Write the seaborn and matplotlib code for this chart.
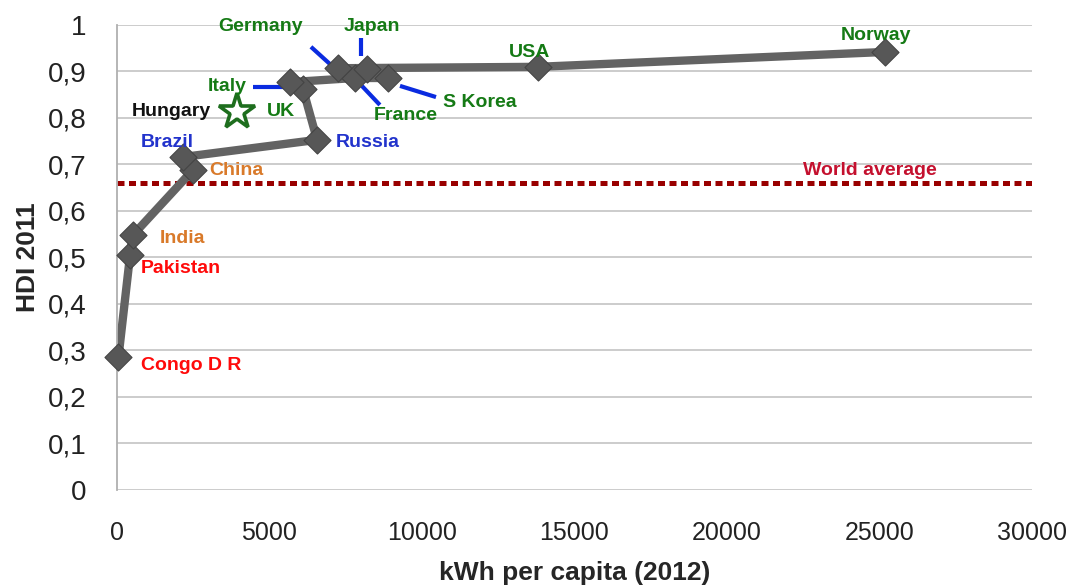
import matplotlib
matplotlib.use("Agg")
import matplotlib.pyplot as plt
import seaborn as sns
import pandas as pd

# data
countries = ["Congo D R", "Pakistan", "India", "China", "Brazil", "Russia", "UK", "Italy",
             "France", "S Korea", "Japan", "Germany", "USA", "Norway"]
kwh = [50, 430, 520, 2490, 2160, 6560, 6100, 5670, 7800, 8890, 8200, 7250, 13800, 25180]
hdi = [0.286, 0.505, 0.548, 0.688, 0.716, 0.753, 0.862, 0.877, 0.886, 0.886, 0.905, 0.907, 0.910, 0.942]

hungary_kwh = 3930
hungary_hdi = 0.813
world_avg = 0.660

# label placement (data coords) and colours
label_names = ["Germany", "Japan", "Italy", "Hungary", "UK", "Brazil", "Russia", "China", "France",
               "S Korea", "USA", "Norway", "India", "Pakistan", "Congo D R", "World average"]
label_x = [4720, 8360, 3610, 1800, 5380, 1640, 8230, 3900, 9480, 11900, 13540, 24890, 2160, 2100, 2430, 24690]
label_y = [0.996, 0.996, 0.867, 0.813, 0.813, 0.748, 0.748, 0.686, 0.806, 0.834, 0.940, 0.978, 0.540, 0.477, 0.267, 0.686]
green, blue, orange, red = "#157a15", "#2233cc", "#d97a2a", "#ff0a0a"
label_colors = [green, green, green, "#111111", green, blue, blue, orange, green,
                green, green, green, orange, red, red, "#c4102e"]

# blue leader lines
leaders = [((4460, 5670), (0.867, 0.867)),
           ((6360, 7050), (0.953, 0.912)),
           ((8000, 8000), (0.972, 0.933)),
           ((8030, 8620), (0.869, 0.828)),
           ((9280, 10460), (0.869, 0.845))]

xticks = [0, 5000, 10000, 15000, 20000, 25000, 30000]
yticks = [0, 0.1, 0.2, 0.3, 0.4, 0.5, 0.6, 0.7, 0.8, 0.9, 1.0]

sns.set_style("white")
plt.rcParams['font.family'] = ['Liberation Sans', 'DejaVu Sans']

df = pd.DataFrame({"country": countries, "kwh": kwh, "hdi": hdi})

fig = plt.figure(figsize=(10.91, 5.85), dpi=100)
ax = fig.add_axes([0.1072, 0.1624, 0.8387, 0.7949])

for y in yticks:
    ax.axhline(y, color="#c8c8c8", lw=1.3, zorder=0)

ax.axhline(world_avg, color="#990000", lw=3.6, linestyle=(0, (1.4, 0.9)), zorder=1)

sns.lineplot(data=df, x="kwh", y="hdi", sort=False, color="#636363", lw=6,
             ax=ax, zorder=2, estimator=None)
sns.scatterplot(data=df, x="kwh", y="hdi", marker="D", s=190, color="#575757",
                edgecolor="#444444", linewidth=0.8, ax=ax, zorder=3, clip_on=False)
ax.plot([hungary_kwh], [hungary_hdi], marker="*", ms=27, mfc="white", mec="#1e6e1e",
        mew=2.6, zorder=4)

for (xs, ys) in leaders:
    ax.plot(xs, ys, color="#0a2be0", lw=3, zorder=2, solid_capstyle="butt")

for name, x, y, c in zip(label_names, label_x, label_y, label_colors):
    ax.text(x, y, name, color=c, fontsize=14, fontweight="bold", ha="center", va="center", zorder=5)

ax.set_xlim(0, 30000)
ax.set_ylim(0, 1)
ax.set_xticks(xticks)
ax.set_xticklabels([str(t) for t in xticks], fontsize=18, color="#222222")
ax.set_yticks(yticks)
ax.set_yticklabels(["0" if t == 0 else ("1" if t == 1 else f"{t:.1f}".replace(".", ",")) for t in yticks],
                   fontsize=20, color="#222222")
ax.tick_params(axis="y", length=0, pad=22)
ax.tick_params(axis="x", length=0, pad=22)

ax.set_xlabel("kWh per capita (2012)", fontsize=19, fontweight="bold")
ax.set_ylabel("HDI 2011", fontsize=19, fontweight="bold")
ax.xaxis.set_label_coords(0.5, -0.152)
ax.yaxis.set_label_coords(-0.084, 0.5)

for s in ["top", "right", "bottom"]:
    ax.spines[s].set_visible(False)
ax.spines["left"].set_color("#b0b0b0")
ax.spines["left"].set_linewidth(1.3)

plt.savefig("out.png", dpi=100)
